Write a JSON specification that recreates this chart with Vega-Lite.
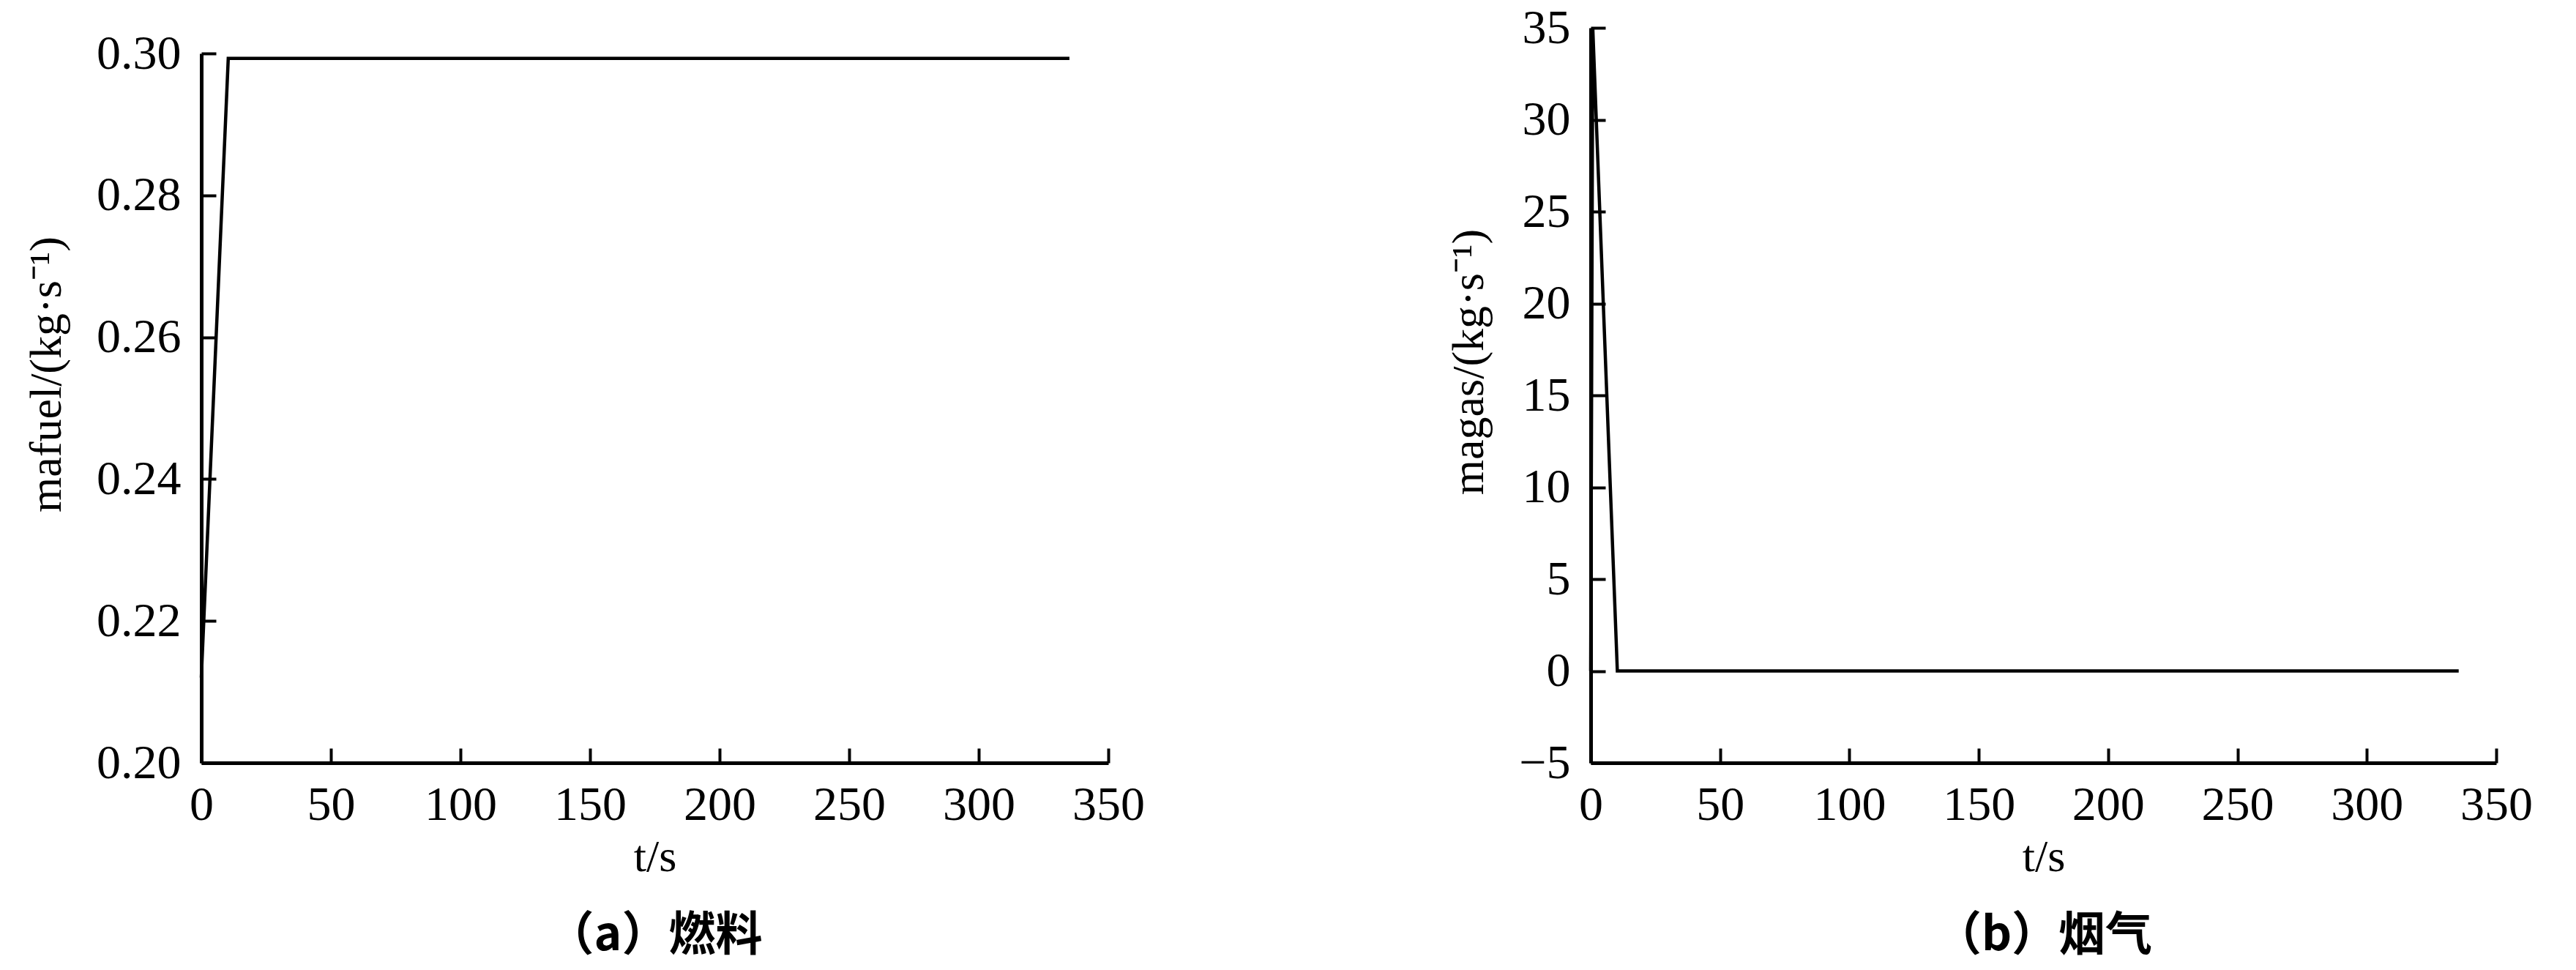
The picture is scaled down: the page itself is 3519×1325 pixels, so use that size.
{
  "$schema": "https://vega.github.io/schema/vega-lite/v6.json",
  "background": "white",
  "padding": {"left": 32, "top": 5, "right": 10, "bottom": 2},
  "bounds": "flush",
  "spacing": 659,
  "datasets": {
    "fuel": [
      {"t": 0, "v": 0.212},
      {"t": 10.4, "v": 0.2993},
      {"t": 335, "v": 0.2993}
    ],
    "gas": [
      {"t": 0, "v": 0},
      {"t": 0.8, "v": 35},
      {"t": 10.3, "v": 0},
      {"t": 335.5, "v": 0}
    ]
  },
  "hconcat": [
    {
      "width": 1239,
      "height": 1004,
      "data": {"name": "fuel"},
      "title": {"text": "（a）燃料", "orient": "bottom", "anchor": "middle", "font": "Noto Sans CJK SC", "fontSize": 64, "fontWeight": "bold", "color": "black", "offset": 46},
      "mark": {"type": "line", "color": "black", "strokeWidth": 4.5, "clip": false},
      "encoding": {
        "x": {"field": "t", "type": "quantitative", "title": "t/s",
              "scale": {"domain": [0, 350], "nice": false, "zero": false},
              "axis": {"values": [0, 50, 100, 150, 200, 250, 300, 350], "format": "d"}},
        "y": {"field": "v", "type": "quantitative", "title": "mafuel/(kg·s⁻¹)",
              "scale": {"domain": [0.2, 0.3], "nice": false, "zero": false, "range": [1004, 35]},
              "axis": {"values": [0.2, 0.22, 0.24, 0.26, 0.28, 0.3], "format": ".2f", "titleY": 473}}
      }
    },
    {
      "width": 1237,
      "height": 1004,
      "data": {"name": "gas"},
      "title": {"text": "（b）烟气", "orient": "bottom", "anchor": "middle", "font": "Noto Sans CJK SC", "fontSize": 64, "fontWeight": "bold", "color": "black", "offset": 46},
      "mark": {"type": "line", "color": "black", "strokeWidth": 4.5, "clip": false},
      "encoding": {
        "x": {"field": "t", "type": "quantitative", "title": "t/s",
              "scale": {"domain": [0, 350], "nice": false, "zero": false},
              "axis": {"values": [0, 50, 100, 150, 200, 250, 300, 350], "format": "d"}},
        "y": {"field": "v", "type": "quantitative", "title": "magas/(kg·s⁻¹)",
              "scale": {"domain": [-5, 35], "nice": false, "zero": false},
              "axis": {"values": [-5, 0, 5, 10, 15, 20, 25, 30, 35], "format": "d", "titleY": 456}}
      }
    }
  ],
  "config": {
    "view": {"stroke": null},
    "axis": {
      "grid": false,
      "domainColor": "black",
      "domainWidth": 5,
      "tickColor": "black",
      "tickWidth": 4,
      "tickSize": -20,
      "labelFont": "Liberation Serif",
      "labelFontSize": 66,
      "labelColor": "black",
      "labelFlush": false,
      "labelOverlap": false,
      "titleFont": "Liberation Serif",
      "titleFontSize": 62,
      "titleFontWeight": "normal",
      "titleColor": "black"
    },
    "axisY": {"titlePadding": 36, "labelPadding": 48},
    "axisX": {"titlePadding": 8, "labelPadding": 45}
  }
}
